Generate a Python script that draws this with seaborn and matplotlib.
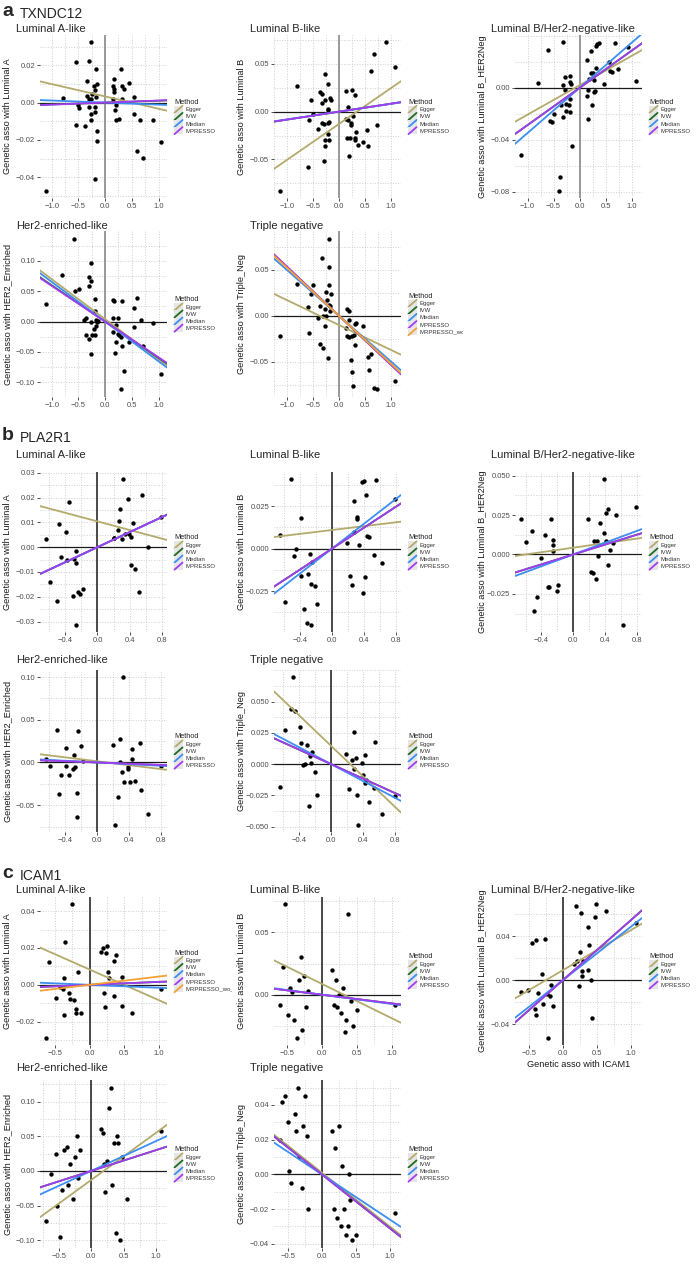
import matplotlib
matplotlib.use("Agg")
import pandas as pd
import matplotlib.pyplot as plt
import seaborn as sns
from matplotlib.legend_handler import HandlerBase
from matplotlib.lines import Line2D
from matplotlib.patches import Rectangle
from matplotlib.ticker import AutoMinorLocator
from matplotlib.transforms import Bbox, TransformedBbox

# ── Methods ───────────────────────────────────────────────────────────────────
METHODS = ["Egger", "IVW", "Median", "MPRESSO", "MRPRESSO_wo_outlier"]
METHOD_COLORS = ["#b3aa6c", "#1f6b21", "#3b8ef2", "#a23cf2", "#f5a033"]

# ── a: TXNDC12 (x, y) SNP associations ────────────────────────────────────────
TX_LUMA = [(-1.11, -0.0471), (-0.79, 0.0027), (-0.55, 0.0219), (-0.55, -0.0119), (-0.50, -0.0012),
           (-0.48, -0.0030), (-0.38, -0.0128), (-0.34, 0.0116), (-0.34, 0.0037), (-0.31, 0.0222),
           (-0.31, -0.0021), (-0.30, 0.0020), (-0.27, 0.0322), (-0.26, 0.0020), (-0.26, -0.0060),
           (-0.26, -0.0092), (-0.25, 0.0044), (-0.20, 0.0091), (-0.18, 0.0068), (-0.19, -0.0021),
           (-0.18, -0.0050), (-0.18, -0.0407), (-0.17, 0.0178), (-0.17, 0.0032), (-0.16, 0.0098),
           (-0.15, -0.0151), (-0.15, -0.0204), (0.17, 0.0126), (0.15, 0.0089), (0.17, 0.0071),
           (0.17, 0.0059), (0.14, 0.0020), (0.18, -0.0039), (0.21, -0.0012), (0.20, -0.0092),
           (0.26, -0.0087), (0.30, 0.0178), (0.31, 0.0020), (0.32, 0.0091), (0.36, 0.0073),
           (0.44, 0.0107), (0.54, 0.0032), (0.54, -0.0062), (0.59, -0.0261), (0.66, -0.0092),
           (0.70, -0.0297), (0.89, -0.0092), (1.05, -0.0212)]
TX_LUMB = [(-1.14, -0.0826), (-0.81, 0.0272), (-0.59, -0.0580), (-0.58, -0.0091), (-0.54, 0.0125),
           (-0.50, -0.0021), (-0.40, -0.0181), (-0.37, 0.0202), (-0.32, 0.0185), (-0.32, 0.0091),
           (-0.33, -0.0118), (-0.29, -0.0132), (-0.28, -0.0519), (-0.27, -0.0300), (-0.27, -0.0355),
           (-0.26, 0.0118), (-0.27, 0.0390), (-0.21, 0.0286), (-0.21, 0.0028), (-0.20, 0.0014),
           (-0.21, -0.0118), (-0.20, -0.0233), (-0.18, -0.0293), (-0.17, 0.0139), (-0.15, 0.0125),
           (-0.19, -0.0105), (0.13, 0.0213), (0.13, -0.0073), (0.15, -0.0275), (0.17, 0.0049),
           (0.17, -0.0084), (0.19, -0.0467), (0.21, -0.0272), (0.23, -0.0118), (0.24, -0.0139),
           (0.26, 0.0223), (0.28, -0.0049), (0.31, 0.0174), (0.31, -0.0272), (0.31, -0.0293),
           (0.33, -0.0216), (0.38, -0.0345), (0.46, -0.0321), (0.55, -0.0195), (0.56, -0.0362),
           (0.62, 0.0422), (0.68, 0.0603), (0.73, -0.0136), (0.91, 0.0725), (1.09, 0.0463)]
TX_LUMBH2 = [(-1.13, -0.0516), (-0.80, 0.0038), (-0.60, 0.0294), (-0.57, -0.0258), (-0.53, -0.0263),
             (-0.50, -0.0204), (-0.40, -0.0790), (-0.37, -0.0685), (-0.35, -0.0135), (-0.32, -0.0222),
             (-0.31, 0.0350), (-0.32, 0.0026), (-0.28, -0.0013), (-0.27, 0.0082), (-0.26, -0.0120),
             (-0.26, -0.0176), (-0.20, -0.0135), (-0.19, 0.0089), (-0.19, 0.0046), (-0.18, -0.0184),
             (-0.18, -0.0089), (-0.16, 0.0031), (-0.15, -0.0447), (0.15, 0.0217), (0.15, -0.0064),
             (0.16, -0.0013), (0.17, -0.0243), (0.19, 0.0069), (0.22, 0.0281), (0.22, 0.0115),
             (0.24, -0.0128), (0.26, 0.0115), (0.27, 0.0064), (0.27, -0.0033), (0.30, -0.0026),
             (0.31, 0.0153), (0.32, 0.0319), (0.34, 0.0337), (0.37, 0.0345), (0.47, 0.0031),
             (0.56, 0.0197), (0.58, 0.0128), (0.62, 0.0120), (0.69, 0.0345), (0.73, 0.0148),
             (0.93, 0.0314), (1.09, 0.0056)]
TX_HER2 = [(-1.11, 0.029), (-0.80, 0.077), (-0.58, 0.137), (-0.56, 0.050), (-0.49, 0.053),
           (-0.39, 0.003), (-0.36, 0.0056), (-0.35, -0.022), (-0.31, -0.028), (-0.31, 0.059),
           (-0.30, 0.073), (-0.27, 0.067), (-0.27, 0.096), (-0.26, 0.000), (-0.26, -0.054),
           (-0.25, -0.022), (-0.21, -0.013), (-0.19, 0.038), (-0.19, 0.018), (-0.19, -0.022),
           (-0.17, 0.003), (-0.17, -0.0067), (-0.16, 0.000), (-0.14, 0.001), (0.15, 0.036),
           (0.17, 0.034), (0.14, 0.0056), (0.15, -0.018), (0.19, -0.052), (0.20, -0.034),
           (0.21, -0.0056), (0.24, 0.0067), (0.24, -0.020), (0.26, -0.022), (0.29, -0.025),
           (0.29, -0.112), (0.31, -0.040), (0.32, 0.034), (0.36, -0.081), (0.45, -0.034),
           (0.54, 0.022), (0.54, -0.009), (0.59, 0.039), (0.67, 0.0028), (0.71, -0.040),
           (0.90, -0.0028), (1.05, -0.087)]
TX_TN = [(-1.14, -0.0217), (-0.80, 0.035), (-0.59, 0.0092), (-0.58, -0.0184), (-0.53, 0.0232),
         (-0.50, 0.0335), (-0.40, -0.0026), (-0.36, 0.011), (-0.36, -0.030), (-0.32, 0.0625),
         (-0.31, -0.0007), (-0.31, -0.035), (-0.27, 0.0077), (-0.27, -0.011), (-0.26, -0.0007),
         (-0.26, 0.026), (-0.23, 0.0176), (-0.21, -0.046), (-0.20, 0.0526), (-0.20, 0.033),
         (-0.19, 0.0121), (-0.18, 0.0103), (-0.17, 0.0048), (-0.15, 0.0232), (-0.19, 0.0838),
         (0.14, -0.0129), (0.15, -0.022), (0.16, 0.0074), (0.19, 0.0055), (0.19, -0.0044),
         (0.20, -0.0228), (0.22, -0.0474), (0.24, -0.0217), (0.25, -0.0607), (0.27, -0.0761),
         (0.29, -0.021), (0.31, -0.0092), (0.31, -0.032), (0.33, -0.0081), (0.46, -0.0107),
         (0.56, -0.0448), (0.57, -0.0585), (0.62, -0.0412), (0.68, -0.078), (0.73, -0.0798),
         (1.08, -0.0706)]

# ── b: PLA2R1 ─────────────────────────────────────────────────────────────────
PL_LUMA = [(-0.64, 0.0032), (-0.59, -0.0140), (-0.50, -0.0217), (-0.47, 0.0094), (-0.45, -0.0038),
           (-0.39, 0.0062), (-0.38, -0.0052), (-0.35, 0.0181), (-0.30, -0.0197), (-0.29, -0.0048),
           (-0.26, -0.0015), (-0.26, -0.0064), (-0.24, -0.0180), (-0.27, -0.0313), (-0.21, -0.0187),
           (-0.18, -0.0170), (0.20, 0.0038), (0.21, 0.0038), (0.26, 0.0068), (0.27, 0.0105),
           (0.28, 0.0154), (0.31, 0.0032), (0.32, 0.0274), (0.34, 0.0054), (0.38, 0.0193),
           (0.39, 0.0052), (0.41, -0.0072), (0.42, 0.0042), (0.44, 0.0098), (0.46, -0.0090),
           (0.52, -0.0180), (0.55, 0.0210), (0.63, 0.0000), (0.79, 0.0120)]
PL_LUMB = [(-0.65, 0.0083), (-0.59, -0.0313), (-0.51, 0.0409), (-0.47, -0.0042), (-0.45, 0.0000),
           (-0.39, 0.0183), (-0.39, -0.0158), (-0.35, -0.0355), (-0.31, -0.0438), (-0.30, -0.0149),
           (-0.27, -0.0033), (-0.26, -0.0207), (-0.26, -0.0448), (-0.25, -0.0081), (-0.21, -0.0222),
           (-0.18, -0.0328), (0.19, 0.0031), (0.22, -0.0162), (0.25, -0.0216), (0.27, 0.0282),
           (0.28, 0.0097), (0.31, 0.0189), (0.31, 0.0176), (0.34, 0.0023), (0.38, 0.0392),
           (0.40, 0.0396), (0.39, -0.0259), (0.41, -0.0166), (0.43, 0.0314), (0.44, 0.0077),
           (0.46, 0.0070), (0.52, -0.0039), (0.55, 0.0402), (0.62, -0.0085), (0.79, 0.0292)]
PL_LUMBH2 = [(-0.66, 0.0224), (-0.60, 0.0077), (-0.52, 0.0151), (-0.49, -0.0360), (-0.46, -0.0268),
             (-0.40, -0.0021), (-0.36, 0.0126), (-0.32, -0.0209), (-0.30, -0.0205), (-0.28, 0.0224),
             (-0.26, 0.0063), (-0.25, 0.0090), (-0.26, 0.0021), (-0.21, -0.0230), (-0.19, -0.0195),
             (0.18, 0.0226), (0.22, -0.0111), (0.25, -0.0119), (0.26, 0.0084), (0.28, -0.0157),
             (0.30, 0.0084), (0.31, -0.0010), (0.34, 0.0199), (0.38, 0.0477), (0.39, 0.0136),
             (0.41, 0.0262), (0.41, 0.0084), (0.43, 0.0287), (0.44, -0.0069), (0.46, 0.0031),
             (0.50, 0.0073), (0.54, 0.0251), (0.62, -0.0446), (0.79, 0.0299)]
PL_HER2 = [(-0.64, 0.0043), (-0.59, -0.0047), (-0.50, 0.0380), (-0.47, -0.0370), (-0.45, -0.0144),
           (-0.39, 0.0167), (-0.39, -0.0039), (-0.35, -0.0152), (-0.30, -0.0078), (-0.29, 0.0090),
           (-0.27, -0.0054), (-0.25, -0.0358), (-0.25, -0.0642), (-0.24, 0.0366), (-0.20, 0.0198),
           (-0.17, 0.0012), (0.20, 0.0206), (0.22, -0.0728), (0.26, -0.0409), (0.28, 0.0272),
           (0.28, 0.0000), (0.31, -0.0117), (0.32, 0.0996), (0.34, -0.0233), (0.38, -0.0074),
           (0.39, -0.0054), (0.41, -0.0233), (0.44, 0.0160), (0.44, 0.0039), (0.47, -0.0222),
           (0.53, 0.0233), (0.55, -0.0327), (0.63, -0.0603), (0.80, -0.0039)]
PL_TN = [(-0.64, -0.0186), (-0.58, 0.0274), (-0.50, 0.0439), (-0.47, 0.0694), (-0.45, 0.0428),
         (-0.39, 0.0300), (-0.38, 0.0168), (-0.35, -0.0005), (-0.32, 0.0000), (-0.30, 0.0149),
         (-0.28, -0.0332), (-0.26, 0.0066), (-0.25, 0.0008), (-0.24, 0.0096), (-0.20, -0.0061),
         (-0.17, -0.0250), (0.19, 0.0082), (0.22, -0.0199), (0.26, 0.0035), (0.28, 0.0253),
         (0.29, -0.0040), (0.31, 0.0048), (0.32, -0.0250), (0.34, -0.0484), (0.39, 0.0008),
         (0.40, -0.0085), (0.42, 0.0074), (0.42, -0.0152), (0.44, -0.0130), (0.47, -0.0306),
         (0.53, -0.0191), (0.55, 0.0173), (0.63, -0.0396), (0.80, -0.0258)]

# ── c: ICAM1 ──────────────────────────────────────────────────────────────────
IC_LUMA = [(-0.63, -0.0290), (-0.58, 0.0126), (-0.49, -0.0072), (-0.43, -0.0012), (-0.38, -0.0025),
           (-0.37, 0.0037), (-0.37, -0.0163), (-0.35, 0.0232), (-0.29, -0.0042), (-0.28, -0.0076),
           (-0.25, 0.0440), (-0.23, -0.0081), (-0.20, -0.0131), (-0.19, -0.0151), (-0.17, 0.0072),
           (-0.13, -0.0151), (0.16, 0.0176), (0.19, 0.0202), (0.21, -0.0045), (0.22, -0.0118),
           (0.23, 0.0173), (0.25, 0.0210), (0.26, 0.0071), (0.28, 0.0037), (0.35, 0.0129),
           (0.35, -0.0062), (0.38, 0.0160), (0.47, 0.0042), (0.46, -0.0113), (0.61, -0.0151),
           (1.03, -0.0025)]
IC_LUMB = [(-0.60, -0.008), (-0.55, 0.022), (-0.52, 0.073), (-0.48, -0.016), (-0.45, 0.005),
           (-0.42, 0.002), (-0.40, -0.020), (-0.36, -0.035), (-0.33, 0.012), (-0.30, 0.030),
           (-0.28, -0.028), (-0.25, 0.015), (-0.22, -0.010), (-0.20, 0.003), (0.15, 0.020),
           (0.18, -0.008), (0.20, 0.012), (0.22, -0.010), (0.25, 0.000), (0.28, -0.015),
           (0.30, 0.005), (0.33, -0.030), (0.35, -0.020), (0.38, 0.065), (0.42, -0.005),
           (0.45, -0.025), (0.50, -0.012), (1.05, -0.008)]
IC_LUMBH2 = [(-0.62, -0.0104), (-0.52, -0.0086), (-0.46, 0.0340), (-0.40, 0.0363), (-0.37, -0.0116),
             (-0.41, -0.0262), (-0.39, -0.0315), (-0.31, 0.0056), (-0.30, -0.0217), (-0.27, 0.0372),
             (-0.23, -0.0128), (-0.22, -0.0529), (-0.19, -0.0143), (-0.18, -0.0048), (-0.14, -0.0232),
             (0.16, 0.0149), (0.20, 0.0675), (0.21, 0.0175), (0.23, -0.0054), (0.25, 0.0259),
             (0.27, 0.0616), (0.28, 0.0080), (0.28, 0.0042), (0.30, 0.0175), (0.37, 0.0482),
             (0.37, 0.0095), (0.39, 0.0318), (0.41, 0.0006), (0.43, -0.0342), (0.48, 0.0577),
             (0.49, 0.0696), (0.64, 0.0630), (1.08, 0.0520)]
IC_HER2 = [(-0.70, -0.072), (-0.62, -0.005), (-0.55, 0.025), (-0.52, -0.050), (-0.48, -0.095),
           (-0.45, -0.028), (-0.42, 0.030), (-0.38, 0.035), (-0.35, -0.020), (-0.32, 0.010),
           (-0.28, -0.040), (-0.25, 0.020), (-0.22, 0.050), (-0.20, -0.010), (-0.18, 0.030),
           (0.15, 0.060), (0.18, 0.055), (0.20, 0.010), (0.22, -0.030), (0.25, 0.015),
           (0.28, 0.090), (0.30, 0.120), (0.32, -0.020), (0.35, 0.040), (0.38, -0.090),
           (0.40, 0.050), (0.42, 0.040), (0.45, -0.100), (0.48, 0.020), (0.55, -0.040),
           (1.08, 0.058)]
IC_TN = [(-0.62, 0.020), (-0.58, 0.042), (-0.55, 0.045), (-0.50, 0.030), (-0.48, 0.002),
         (-0.45, -0.005), (-0.40, 0.035), (-0.38, 0.025), (-0.35, 0.050), (-0.33, 0.010),
         (-0.30, -0.008), (-0.28, 0.028), (-0.25, 0.045), (-0.22, 0.022), (-0.20, -0.020),
         (0.15, 0.025), (0.18, -0.020), (0.20, 0.015), (0.22, -0.025), (0.25, 0.028),
         (0.28, -0.030), (0.30, 0.005), (0.32, -0.020), (0.35, -0.035), (0.38, -0.030),
         (0.40, 0.000), (0.42, -0.015), (0.45, -0.038), (0.50, -0.035), (1.08, -0.022)]

# ── fitted lines: (intercept, slope) in METHODS order ─────────────────────────
TX_LUMA_FIT = [(0.0033, -0.0066), (0, 0.0010), (0, -0.0011), (0, 0.0011)]
TX_LUMB_FIT = [(-0.0130, 0.0374), (0, 0.0083), (0, 0.0081), (0, 0.0083)]
TX_LUMBH2_FIT = [(0.0020, 0.0226), (0, 0.0286), (0, 0.0347), (0, 0.0286)]
TX_HER2_FIT = [(0.0040, -0.0660), (0, -0.0600), (0, -0.0655), (0, -0.0590)]
TX_TN_FIT = [(-0.0100, -0.0270), (0, -0.0530), (0, -0.0496), (0, -0.0533), (0, -0.0520)]
PL_LUMA_FIT = [(0.0104, -0.0087), (0, 0.0152), (0, 0.0152), (0, 0.0152)]
PL_LUMB_FIT = [(0.0110, 0.0057), (0, 0.0310), (0, 0.0367), (0, 0.0309)]
PL_LUMBH2_FIT = [(0.0043, 0.0072), (0, 0.0157), (0, 0.0187), (0, 0.0157)]
PL_HER2_FIT = [(0.0014, -0.0115), (0, -0.0038), (0, -0.0049), (0, -0.0036)]
PL_TN_FIT = [(0.0146, -0.0612), (0, -0.0290), (0, -0.0338), (0, -0.0291)]
IC_LUMA_FIT = [(0.0083, -0.0167), (0, 0.0016), (0, -0.0016), (0, 0.0016), (0, 0.0045)]
IC_LUMB_FIT = [(0.0087, -0.0276), (0, -0.0070), (0, -0.0075), (0, -0.0070)]
IC_LUMBH2_FIT = [(0.0091, 0.0364), (0, 0.0546), (0, 0.0486), (0, 0.0546)]
IC_HER2_FIT = [(-0.0130, 0.0680), (0, 0.0300), (0, 0.0430), (0, 0.0300)]
IC_TN_FIT = [(0.0010, -0.0310), (0, -0.0310), (0, -0.0260), (0, -0.0310)]

# ── tick labels ───────────────────────────────────────────────────────────────
TX_XTICKS = ["-1.0", "-0.5", "0.0", "0.5", "1.0"]
PL_XTICKS = ["-0.4", "0.0", "0.4", "0.8"]
IC_XTICKS = ["-0.5", "0.0", "0.5", "1.0"]
TX_LUMA_YT = ["-0.04", "-0.02", "0.00", "0.02"]
TX_LUMB_YT = ["-0.05", "0.00", "0.05"]
TX_LUMBH2_YT = ["-0.08", "-0.04", "0.00"]
TX_HER2_YT = ["-0.10", "-0.05", "0.00", "0.05", "0.10"]
TX_TN_YT = ["-0.05", "0.00", "0.05"]
PL_LUMA_YT = ["-0.03", "-0.02", "-0.01", "0.00", "0.01", "0.02", "0.03"]
PL_LUMB_YT = ["-0.025", "0.000", "0.025"]
PL_LUMBH2_YT = ["-0.025", "0.000", "0.025", "0.050"]
PL_HER2_YT = ["-0.05", "0.00", "0.05", "0.10"]
PL_TN_YT = ["-0.050", "-0.025", "0.000", "0.025", "0.050"]
IC_LUMA_YT = ["-0.02", "0.00", "0.02", "0.04"]
IC_LUMB_YT = ["0.00", "0.05"]
IC_LUMBH2_YT = ["-0.04", "0.00", "0.04"]
IC_HER2_YT = ["-0.10", "-0.05", "0.00", "0.05", "0.10"]
IC_TN_YT = ["-0.04", "-0.02", "0.00", "0.02", "0.04"]

GENES = [("a", "TXNDC12", TX_XTICKS, "#7f7f7f"),
         ("b", "PLA2R1", PL_XTICKS, "#1a1a1a"),
         ("c", "ICAM1", IC_XTICKS, "#1a1a1a")]

# (gene index, row, col, title, outcome, points, fit, yticks)
PANELS = [
    (0, 0, 0, "Luminal A-like", "Luminal A", TX_LUMA, TX_LUMA_FIT, TX_LUMA_YT),
    (0, 0, 1, "Luminal B-like", "Luminal B", TX_LUMB, TX_LUMB_FIT, TX_LUMB_YT),
    (0, 0, 2, "Luminal B/Her2-negative-like", "Luminal B_HER2Neg", TX_LUMBH2, TX_LUMBH2_FIT, TX_LUMBH2_YT),
    (0, 1, 0, "Her2-enriched-like", "HER2_Enriched", TX_HER2, TX_HER2_FIT, TX_HER2_YT),
    (0, 1, 1, "Triple negative", "Triple_Neg", TX_TN, TX_TN_FIT, TX_TN_YT),
    (1, 0, 0, "Luminal A-like", "Luminal A", PL_LUMA, PL_LUMA_FIT, PL_LUMA_YT),
    (1, 0, 1, "Luminal B-like", "Luminal B", PL_LUMB, PL_LUMB_FIT, PL_LUMB_YT),
    (1, 0, 2, "Luminal B/Her2-negative-like", "Luminal B_HER2Neg", PL_LUMBH2, PL_LUMBH2_FIT, PL_LUMBH2_YT),
    (1, 1, 0, "Her2-enriched-like", "HER2_Enriched", PL_HER2, PL_HER2_FIT, PL_HER2_YT),
    (1, 1, 1, "Triple negative", "Triple_Neg", PL_TN, PL_TN_FIT, PL_TN_YT),
    (2, 0, 0, "Luminal A-like", "Luminal A", IC_LUMA, IC_LUMA_FIT, IC_LUMA_YT),
    (2, 0, 1, "Luminal B-like", "Luminal B", IC_LUMB, IC_LUMB_FIT, IC_LUMB_YT),
    (2, 0, 2, "Luminal B/Her2-negative-like", "Luminal B_HER2Neg", IC_LUMBH2, IC_LUMBH2_FIT, IC_LUMBH2_YT),
    (2, 1, 0, "Her2-enriched-like", "HER2_Enriched", IC_HER2, IC_HER2_FIT, IC_HER2_YT),
    (2, 1, 1, "Triple negative", "Triple_Neg", IC_TN, IC_TN_FIT, IC_TN_YT),
]

# ── layout in pixels ──────────────────────────────────────────────────────────
FIG_W, FIG_H = 696, 1270
COL_LEFT = [40, 274, 515]
COL_CLIP = [232, 463, 696]      # ggplot clips each plot cell at its border
AX_W = 127
ROW_BOX = {(0, 0): (35, 163), (0, 1): (231, 166),
           (1, 0): (472, 160), (1, 1): (670, 162),
           (2, 0): (897, 148), (2, 1): (1080, 168)}
TITLE_Y = {(0, 0): 29, (0, 1): 226, (1, 0): 455, (1, 1): 660, (2, 0): 890, (2, 1): 1068}
HEADER_Y = [12, 436, 874]


class DiagKey(HandlerBase):
    """ggplot-style abline legend key: diagonal line on a grey square."""
    def create_artists(self, legend, orig_handle, xdescent, ydescent, width, height, fontsize, trans):
        x0, y0 = -xdescent, -ydescent
        bg = Rectangle((x0, y0), width, height, facecolor="#e6e6e6", edgecolor="none", transform=trans)
        ln = Line2D([x0, x0 + width], [y0, y0 + height], color=orig_handle.get_color(),
                    lw=1.3, transform=trans)
        return [bg, ln]


sns.set_theme(style="white")
plt.rcParams["font.family"] = ["Liberation Sans", "DejaVu Sans"]
plt.rcParams["axes.unicode_minus"] = True

fig = plt.figure(figsize=(FIG_W / 100, FIG_H / 100), dpi=100)


def fy(px):
    return 1 - px / FIG_H


for g, (letter, gene, _, _) in enumerate(GENES):
    fig.text(2 / FIG_W, fy(HEADER_Y[g]), letter, fontsize=14, fontweight="bold", va="center")
    fig.text(20 / FIG_W, fy(HEADER_Y[g] + 2), gene, fontsize=10, va="center")

for g, row, col, title, outcome, pts, fit, yticks in PANELS:
    top, h = ROW_BOX[(g, row)]
    left = COL_LEFT[col]
    ax = fig.add_axes([left / FIG_W, fy(top + h), AX_W / FIG_W, h / FIG_H])
    xticks, vcol = GENES[g][2], GENES[g][3]

    df = pd.DataFrame(pts, columns=["x", "y"])
    ax.axhline(0, color="#1a1a1a", lw=0.9, zorder=1)
    ax.axvline(0, color=vcol, lw=1.1, zorder=1)
    sns.scatterplot(data=df, x="x", y="y", color="black", s=10, linewidth=0, ax=ax, zorder=2)
    xlim, ylim = ax.get_xlim(), ax.get_ylim()

    handles = []
    for (b, m), name, c in zip(fit, METHODS, METHOD_COLORS):
        ax.axline((0, b), slope=m, color=c, lw=1.3, zorder=3)
        handles.append(Line2D([], [], color=c, label=name))

    ax.set_xticks([float(t) for t in xticks], [t.replace("-", "\u2212") for t in xticks])
    ax.set_yticks([float(t) for t in yticks], [t.replace("-", "\u2212") for t in yticks])
    ax.set_xlim(xlim)
    ax.set_ylim(ylim)
    ax.xaxis.set_minor_locator(AutoMinorLocator(2))
    ax.yaxis.set_minor_locator(AutoMinorLocator(2))
    ax.grid(True, which="both", color="#cfcfcf", linestyle=":", lw=0.7)
    ax.set_axisbelow(True)
    for s in ax.spines.values():
        s.set_visible(False)
    ax.tick_params(which="major", labelsize=5.5, length=2, width=0.6, color="#333333",
                   labelcolor="#4d4d4d", pad=1.5, left=True, bottom=True)
    ax.tick_params(which="minor", length=0)

    ax.set_ylabel(f"Genetic asso with {outcome}", fontsize=6.6, color="#1a1a1a")
    ax.yaxis.set_label_coords(-28 / AX_W, 0.5)
    if g == 2 and row == 0 and col == 2:
        ax.set_xlabel("Genetic asso with ICAM1", fontsize=6.6, color="#1a1a1a", labelpad=2)
    else:
        ax.set_xlabel("")

    fig.text((left - 24) / FIG_W, fy(TITLE_Y[(g, row)]), title, fontsize=8, va="center")

    leg = ax.legend(handles=handles, title="Method", loc="center left", bbox_to_anchor=(1.04, 0.5),
                    frameon=False, fontsize=4.3, title_fontsize=5.3, handlelength=1.35,
                    handleheight=1.45, labelspacing=0, handletextpad=0.5, borderaxespad=0,
                    alignment="left", handler_map={Line2D: DiagKey()})
    clip = TransformedBbox(Bbox.from_extents(0, 0, COL_CLIP[col] / FIG_W, 1), fig.transFigure)
    for t in leg.get_texts():
        t.set_color("#333333")
        t.set_clip_box(clip)
        t.set_clip_on(True)

fig.savefig("out.png", dpi=100)
plt.close(fig)
